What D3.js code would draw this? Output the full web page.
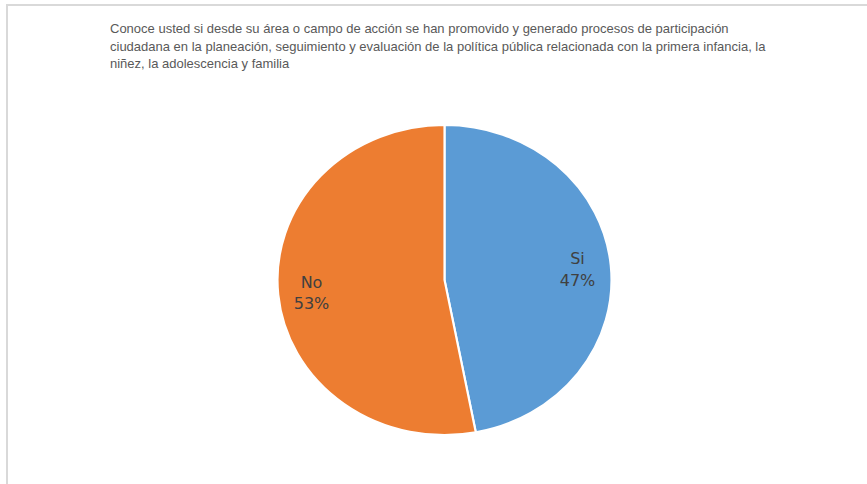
<!DOCTYPE html>
<html>
<head>
<meta charset="utf-8">
<script src="https://cdn.jsdelivr.net/npm/d3@7"></script>
<style>
  body { margin: 0; background: #fff; }
  svg { display: block; }
</style>
</head>
<body>
<div id="chart"></div>
<script>
"use strict";

// chart data
var categories = ["Si", "No"];
var values = [47, 53];
var colors = ["#5b9bd5", "#ed7d31"];
var titleLines = [
    "Conoce usted si desde su área o campo de acción se han promovido y generado procesos de participación",
    "ciudadana en la planeación, seguimiento y evaluación de la política pública relacionada con la primera infancia, la",
    "niñez, la adolescencia y familia"
];

var W = 867, H = 484;
var cx = 444.5, cy = 280,
    ry = 155, rx = 167;

var svg = d3.select("#chart")
    .append("svg")
    .attr("width", W)
    .attr("height", H);

// chart area frame (only top and left visible)
svg.append("line")
    .attr("x1", 7).attr("y1", 5).attr("x2", W).attr("y2", 5)
    .attr("stroke", "#d9d9d9").attr("stroke-width", 2);
svg.append("line")
    .attr("x1", 7).attr("y1", 4).attr("x2", 7).attr("y2", H)
    .attr("stroke", "#d9d9d9").attr("stroke-width", 2);

// title
svg.append("g")
    .selectAll("text")
    .data(titleLines)
    .enter()
    .append("text")
    .attr("x", 110)
    .attr("y", (d, i) => 33 + i * 17.5)
    .attr("font-family", "'Liberation Sans', Arial, sans-serif")
    .attr("font-size", "13px")
    .attr("fill", "#595959")
    .text(d => d);

var data = categories.map((c, i) => ({ name: c, value: values[i], color: colors[i] }));
var total = d3.sum(values);

var pie = d3.pie().sort(null).value(d => d.value);
var arc = d3.arc().innerRadius(0).outerRadius(ry);
var labelArc = d3.arc().innerRadius(ry * 0.8).outerRadius(ry * 0.8);

var g = svg.append("g")
    .attr("transform", "translate(" + cx + "," + cy + ") scale(" + (rx / ry) + ",1)");

var arcs = pie(data);

g.selectAll("path")
    .data(arcs)
    .enter()
    .append("path")
    .attr("d", arc)
    .attr("fill", d => d.data.color)
    .attr("stroke", "#fff")
    .attr("stroke-width", 2);

var labels = svg.append("g")
    .attr("transform", "translate(" + cx + "," + cy + ")");

arcs.forEach(function(d) {
    var c = labelArc.centroid(d);
    var t = labels.append("text")
        .attr("x", c[0] * rx / ry)
        .attr("y", c[1])
        .attr("text-anchor", "middle")
        .attr("font-family", "'DejaVu Sans', 'Liberation Sans', sans-serif")
        .attr("font-size", "16px")
        .attr("fill", "#404040");
    t.append("tspan")
        .attr("x", c[0] * rx / ry)
        .attr("dy", "-0.25em")
        .text(d.data.name);
    t.append("tspan")
        .attr("x", c[0] * rx / ry)
        .attr("dy", "1.35em")
        .text(Math.round(d.data.value / total * 100) + "%");
});
</script>
</body>
</html>
